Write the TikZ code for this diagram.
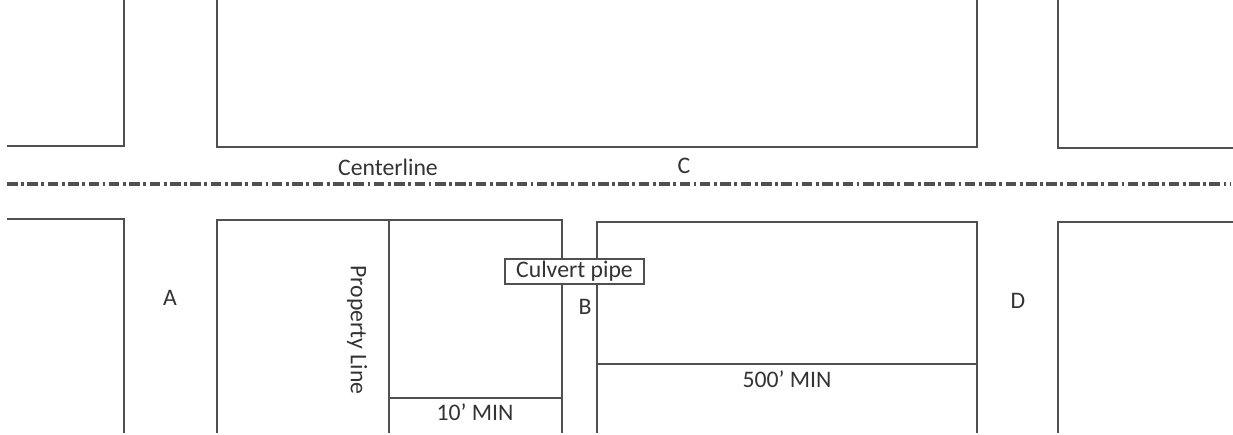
\documentclass[tikz,border=0pt]{standalone}
\usepackage{fontspec}
\setmainfont{Carlito}
\usetikzlibrary{positioning}
\definecolor{inkgrey}{HTML}{505050}
\definecolor{textgrey}{HTML}{333333}

\begin{document}
\begin{tikzpicture}
[x=0.02cm, y=-0.02cm,
  lotLine/.style={draw=inkgrey,line width=1.2pt},%
  centerLine/.style={draw=inkgrey,line width=1.8pt,
    dash pattern=on 6pt off 2pt on 1.6pt off 2pt},%
  labelText/.style={text=textgrey,font=\fontsize{13.5}{15}\selectfont,inner sep=1pt},%
  pipeBox/.style={labelText,draw=inkgrey,line width=1pt,minimum width=139*0.02cm,
    minimum height=25*0.02cm}]
\useasboundingbox (0,0) rectangle (1233,434);
%% blocks above the road
\draw[lotLine] (124,0) -- (124,146) -- (7,146);
\draw[lotLine] (217,0) -- (217,147) -- (977,147) -- (977,0);
\draw[lotLine] (1233,148) -- (1058,148) -- (1058,0);
%% blocks below the road
\draw[lotLine] (7,219) -- (124,219) -- (124,433);
\draw[lotLine] (217,433) -- (217,220) -- (562,220) -- (562,433);
\draw[lotLine] (597,433) -- (597,222) -- (977,222) -- (977,433);
\draw[lotLine] (1233,222) -- (1058,222) -- (1058,433);
%% setback lines
\draw[lotLine] (389,220) -- (389,433);
\draw[lotLine] (389,398) -- (562,398);
\draw[lotLine] (597,364) -- (977,364);
%% centerline
\draw[centerLine] (7,184) -- (1230,184);
%% labels
\foreach \nodename/\txt/\x/\y in {
  center/Centerline/388/167, c/C/684/166, a/A/170/298, b/B/585/307,
  d/D/1018/301, tenmin/10’ MIN/475/412, fivehundredmin/500’ MIN/787/379}
{
  \node (\nodename) at (\x,\y) [labelText] {\txt};
}
\node (property) at (357,330) [labelText,rotate=-90] {Property Line};
\node (culvert) at (574.5,271.5) [pipeBox,fill=white] {Culvert pipe};
\end{tikzpicture}
\end{document}
